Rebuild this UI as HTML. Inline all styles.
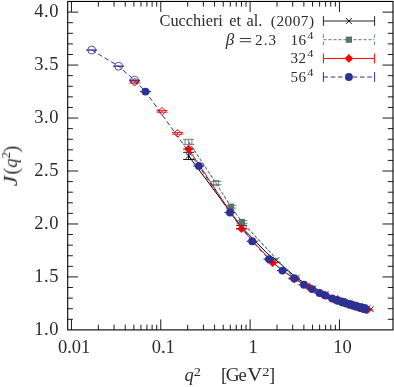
<!DOCTYPE html>
<html><head><meta charset="utf-8"><title>J(q^2)</title>
<style>
html,body{margin:0;padding:0;background:#fff;}
body{width:394px;height:387px;overflow:hidden;font-family:"Liberation Serif",serif;}
svg{display:block;}
.t{filter:grayscale(1);}
</style></head><body>
<svg width="394" height="387" viewBox="0 0 394 387">
<rect width="394" height="387" fill="#fff"/>
<polyline points="188.6,155.9 241.6,227.1 268,254.2 276.3,260.2 296.6,278 313.2,288.38 325.4,294.17 335,298.18 343,301 349.6,303.06 355.2,304.76 359.9,306.14 364,307.29 367.6,308.15 370.7,309.2" fill="none" stroke="#000" stroke-width="1.0"/>
<path d="M188.6 152.3v7.2M183.1 152.3h11M183.1 159.5h11" stroke="#000" stroke-width="0.9" fill="none"/>
<path d="M185.7 153l5.8 5.8M185.7 158.8l5.8 -5.8" stroke="#000" stroke-width="0.9" fill="none"/>
<path d="M241.6 225.4v3.4M236.1 225.4h11M236.1 228.8h11" stroke="#000" stroke-width="0.9" fill="none"/>
<path d="M238.7 224.2l5.8 5.8M238.7 230l5.8 -5.8" stroke="#000" stroke-width="0.9" fill="none"/>

<path d="M273.4 257.3l5.8 5.8M273.4 263.1l5.8 -5.8" stroke="#000" stroke-width="0.9" fill="none"/>

<path d="M293.7 275.1l5.8 5.8M293.7 280.9l5.8 -5.8" stroke="#000" stroke-width="0.9" fill="none"/>

<path d="M310.3 285.48l5.8 5.8M310.3 291.28l5.8 -5.8" stroke="#000" stroke-width="0.9" fill="none"/>

<path d="M322.5 291.27l5.8 5.8M322.5 297.07l5.8 -5.8" stroke="#000" stroke-width="0.9" fill="none"/>

<path d="M332.1 295.28l5.8 5.8M332.1 301.08l5.8 -5.8" stroke="#000" stroke-width="0.9" fill="none"/>

<path d="M340.1 298.1l5.8 5.8M340.1 303.9l5.8 -5.8" stroke="#000" stroke-width="0.9" fill="none"/>

<path d="M346.7 300.16l5.8 5.8M346.7 305.96l5.8 -5.8" stroke="#000" stroke-width="0.9" fill="none"/>

<path d="M352.3 301.86l5.8 5.8M352.3 307.66l5.8 -5.8" stroke="#000" stroke-width="0.9" fill="none"/>

<path d="M357 303.24l5.8 5.8M357 309.04l5.8 -5.8" stroke="#000" stroke-width="0.9" fill="none"/>

<path d="M361.1 304.39l5.8 5.8M361.1 310.19l5.8 -5.8" stroke="#000" stroke-width="0.9" fill="none"/>

<path d="M364.7 305.25l5.8 5.8M364.7 311.05l5.8 -5.8" stroke="#000" stroke-width="0.9" fill="none"/>

<path d="M367.8 306.3l5.8 5.8M367.8 312.1l5.8 -5.8" stroke="#000" stroke-width="0.9" fill="none"/>
<polyline points="188.6,141.8 216,183.1 231,206.7 242,222 294.13,277.83 323.11,293.91 341.86,301.31 354.45,305.24 362.65,307.61" fill="none" stroke="#56736f" stroke-width="1.05" stroke-dasharray="3.3 1.7"/>
<path d="M183.1 139.3h10.9M183.1 144.4h10.9M185.1 139.3v5.1M188.6 139.3v5.1M191.9 139.3v5.1" stroke="#56736f" stroke-width="0.9" fill="none"/>
<path d="M216 181.55v3.1M210.5 181.55h11M210.5 184.65h11" stroke="#56736f" stroke-width="0.8" fill="none"/>
<rect x="213.3" y="180.4" width="5.4" height="5.4" fill="none" stroke="#56736f" stroke-width="0.8"/>
<path d="M231 205.3v2.8M225.5 205.3h11M225.5 208.1h11" stroke="#56736f" stroke-width="0.8" fill="none"/>
<rect x="227.9" y="203.6" width="6.2" height="6.2" fill="#56736f"/>
<path d="M242 220.6v2.8M236.5 220.6h11M236.5 223.4h11" stroke="#56736f" stroke-width="0.8" fill="none"/>
<rect x="238.9" y="218.9" width="6.2" height="6.2" fill="#56736f"/>
<path d="M288.63 277.83h11" stroke="#56736f" stroke-width="1.2800000000000002" fill="none"/>
<rect x="291.03" y="274.73" width="6.2" height="6.2" fill="#56736f"/>
<path d="M317.61 293.91h11" stroke="#56736f" stroke-width="1.2800000000000002" fill="none"/>
<rect x="320.01" y="290.81" width="6.2" height="6.2" fill="#56736f"/>
<path d="M336.36 301.31h11" stroke="#56736f" stroke-width="1.2800000000000002" fill="none"/>
<rect x="338.76" y="298.21" width="6.2" height="6.2" fill="#56736f"/>
<path d="M348.95 305.24h11" stroke="#56736f" stroke-width="1.2800000000000002" fill="none"/>
<rect x="351.35" y="302.14" width="6.2" height="6.2" fill="#56736f"/>
<path d="M357.15 307.61h11" stroke="#56736f" stroke-width="1.2800000000000002" fill="none"/>
<rect x="359.55" y="304.51" width="6.2" height="6.2" fill="#56736f"/>
<polyline points="188.6,149.1 241.5,228.7 272.6,262.7 294.13,278.83 309,287.1 323.11,294.91 333.42,299.27 341.86,302.31 348.79,304.51 354.45,306.24 359.03,307.59 362.65,308.61 365.38,309.36 367.29,309.78 365.6,308.9 366.3,309" fill="none" stroke="#ff0000" stroke-width="1.0"/>
<path d="M134.7 81.2v1.8M129.2 81.2h11M129.2 83h11" stroke="#ff0000" stroke-width="0.9" fill="none"/>
<path d="M134.7 78.15L138.65 82.1L134.7 86.05L130.75 82.1Z" fill="none" stroke="#ff0000" stroke-width="0.95"/>
<path d="M162 110.4v1.8M156.5 110.4h11M156.5 112.2h11" stroke="#ff0000" stroke-width="0.9" fill="none"/>
<path d="M162 107.35L165.95 111.3L162 115.25L158.05 111.3Z" fill="none" stroke="#ff0000" stroke-width="0.95"/>
<path d="M177.6 132.4v1.8M172.1 132.4h11M172.1 134.2h11" stroke="#ff0000" stroke-width="0.9" fill="none"/>
<path d="M177.6 129.35L181.55 133.3L177.6 137.25L173.65 133.3Z" fill="none" stroke="#ff0000" stroke-width="0.95"/>
<path d="M183.1 149.1h11" stroke="#ff0000" stroke-width="1.2800000000000002" fill="none"/>
<path d="M188.6 144.75L192.95 149.1L188.6 153.45L184.25 149.1Z" fill="#ff0000"/>
<path d="M236 228.7h11" stroke="#ff0000" stroke-width="1.2800000000000002" fill="none"/>
<path d="M241.5 224.35L245.85 228.7L241.5 233.05L237.15 228.7Z" fill="#ff0000"/>
<path d="M267.1 262.7h11" stroke="#ff0000" stroke-width="1.2800000000000002" fill="none"/>
<path d="M272.6 258.35L276.95 262.7L272.6 267.05L268.25 262.7Z" fill="#ff0000"/>
<path d="M288.63 278.83h11" stroke="#ff0000" stroke-width="1.2800000000000002" fill="none"/>
<path d="M294.13 274.48L298.48 278.83L294.13 283.18L289.78 278.83Z" fill="#ff0000"/>
<path d="M303.5 287.1h11" stroke="#ff0000" stroke-width="1.2800000000000002" fill="none"/>
<path d="M309 282.75L313.35 287.1L309 291.45L304.65 287.1Z" fill="#ff0000"/>
<path d="M317.61 294.91h11" stroke="#ff0000" stroke-width="1.2800000000000002" fill="none"/>
<path d="M323.11 290.56L327.46 294.91L323.11 299.26L318.76 294.91Z" fill="#ff0000"/>
<path d="M327.92 299.27h11" stroke="#ff0000" stroke-width="1.2800000000000002" fill="none"/>
<path d="M333.42 294.92L337.77 299.27L333.42 303.62L329.07 299.27Z" fill="#ff0000"/>
<path d="M336.36 302.31h11" stroke="#ff0000" stroke-width="1.2800000000000002" fill="none"/>
<path d="M341.86 297.96L346.21 302.31L341.86 306.66L337.51 302.31Z" fill="#ff0000"/>
<path d="M343.29 304.51h11" stroke="#ff0000" stroke-width="1.2800000000000002" fill="none"/>
<path d="M348.79 300.16L353.14 304.51L348.79 308.86L344.44 304.51Z" fill="#ff0000"/>
<path d="M348.95 306.24h11" stroke="#ff0000" stroke-width="1.2800000000000002" fill="none"/>
<path d="M354.45 301.89L358.8 306.24L354.45 310.59L350.1 306.24Z" fill="#ff0000"/>
<path d="M353.53 307.59h11" stroke="#ff0000" stroke-width="1.2800000000000002" fill="none"/>
<path d="M359.03 303.24L363.38 307.59L359.03 311.94L354.68 307.59Z" fill="#ff0000"/>
<path d="M357.15 308.61h11" stroke="#ff0000" stroke-width="1.2800000000000002" fill="none"/>
<path d="M362.65 304.26L367 308.61L362.65 312.96L358.3 308.61Z" fill="#ff0000"/>
<path d="M359.88 309.36h11" stroke="#ff0000" stroke-width="1.2800000000000002" fill="none"/>
<path d="M365.38 305.01L369.73 309.36L365.38 313.71L361.03 309.36Z" fill="#ff0000"/>
<path d="M361.79 309.78h11" stroke="#ff0000" stroke-width="1.2800000000000002" fill="none"/>
<path d="M367.29 305.43L371.64 309.78L367.29 314.13L362.94 309.78Z" fill="#ff0000"/>
<path d="M360.1 308.9h11" stroke="#ff0000" stroke-width="1.2800000000000002" fill="none"/>
<path d="M365.6 304.55L369.95 308.9L365.6 313.25L361.25 308.9Z" fill="#ff0000"/>
<path d="M360.8 309h11" stroke="#ff0000" stroke-width="1.2800000000000002" fill="none"/>
<path d="M366.3 304.65L370.65 309L366.3 313.35L361.95 309Z" fill="#ff0000"/>
<polyline points="91.7,50.05 118.6,66.2 134.5,80.2 145.5,91.6 198.85,166 230,212.5 252.15,241.25 269,259.1 282.45,270.6 294.3,278.55 304,284.8 312.1,289.1 319.5,293 325.7,295.6 332.2,298.4 337.4,300.4 341.86,301.91 345.98,303.23 349.67,304.38 352.95,305.39 355.87,306.26 358.44,307.02 360.69,307.66 362.65,308.21 364.31,308.68 365.1,308.9" fill="none" stroke="#2e3192" stroke-width="1.0" stroke-dasharray="4.7 2.8"/>
<path d="M86.2 50.05h11" stroke="#2e3192" stroke-width="1.2800000000000002" fill="none"/>
<circle cx="91.7" cy="50.05" r="3.95" fill="none" stroke="#2e3192" stroke-width="0.85"/>
<path d="M113.1 66.2h11" stroke="#2e3192" stroke-width="1.2800000000000002" fill="none"/>
<circle cx="118.6" cy="66.2" r="3.95" fill="none" stroke="#2e3192" stroke-width="0.85"/>
<path d="M129 80.2h11" stroke="#2e3192" stroke-width="1.2800000000000002" fill="none"/>
<circle cx="134.5" cy="80.2" r="3.95" fill="none" stroke="#2e3192" stroke-width="0.85"/>
<path d="M140 91.6h11" stroke="#2e3192" stroke-width="1.2800000000000002" fill="none"/>
<circle cx="145.5" cy="91.6" r="3.95" fill="#2e3192"/>
<path d="M193.35 166h11" stroke="#2e3192" stroke-width="1.2800000000000002" fill="none"/>
<circle cx="198.85" cy="166" r="3.95" fill="#2e3192"/>
<path d="M224.5 212.5h11" stroke="#2e3192" stroke-width="1.2800000000000002" fill="none"/>
<circle cx="230" cy="212.5" r="3.95" fill="#2e3192"/>
<path d="M246.65 241.25h11" stroke="#2e3192" stroke-width="1.2800000000000002" fill="none"/>
<circle cx="252.15" cy="241.25" r="3.95" fill="#2e3192"/>
<path d="M263.5 259.1h11" stroke="#2e3192" stroke-width="1.2800000000000002" fill="none"/>
<circle cx="269" cy="259.1" r="3.95" fill="#2e3192"/>
<path d="M276.95 270.6h11" stroke="#2e3192" stroke-width="1.2800000000000002" fill="none"/>
<circle cx="282.45" cy="270.6" r="3.95" fill="#2e3192"/>
<path d="M288.8 278.55h11" stroke="#2e3192" stroke-width="1.2800000000000002" fill="none"/>
<circle cx="294.3" cy="278.55" r="3.95" fill="#2e3192"/>
<path d="M298.5 284.8h11" stroke="#2e3192" stroke-width="1.2800000000000002" fill="none"/>
<circle cx="304" cy="284.8" r="3.95" fill="#2e3192"/>
<path d="M306.6 289.1h11" stroke="#2e3192" stroke-width="1.2800000000000002" fill="none"/>
<circle cx="312.1" cy="289.1" r="3.95" fill="#2e3192"/>
<path d="M314 293h11" stroke="#2e3192" stroke-width="1.2800000000000002" fill="none"/>
<circle cx="319.5" cy="293" r="3.95" fill="#2e3192"/>
<path d="M320.2 295.6h11" stroke="#2e3192" stroke-width="1.2800000000000002" fill="none"/>
<circle cx="325.7" cy="295.6" r="3.95" fill="#2e3192"/>
<path d="M326.7 298.4h11" stroke="#2e3192" stroke-width="1.2800000000000002" fill="none"/>
<circle cx="332.2" cy="298.4" r="3.95" fill="#2e3192"/>
<path d="M331.9 300.4h11" stroke="#2e3192" stroke-width="1.2800000000000002" fill="none"/>
<circle cx="337.4" cy="300.4" r="4.3" fill="#2e3192"/>
<path d="M336.36 301.91h11" stroke="#2e3192" stroke-width="1.2800000000000002" fill="none"/>
<circle cx="341.86" cy="301.91" r="4.3" fill="#2e3192"/>
<path d="M340.48 303.23h11" stroke="#2e3192" stroke-width="1.2800000000000002" fill="none"/>
<circle cx="345.98" cy="303.23" r="4.3" fill="#2e3192"/>
<path d="M344.17 304.38h11" stroke="#2e3192" stroke-width="1.2800000000000002" fill="none"/>
<circle cx="349.67" cy="304.38" r="4.3" fill="#2e3192"/>
<path d="M347.45 305.39h11" stroke="#2e3192" stroke-width="1.2800000000000002" fill="none"/>
<circle cx="352.95" cy="305.39" r="4.3" fill="#2e3192"/>
<path d="M350.37 306.26h11" stroke="#2e3192" stroke-width="1.2800000000000002" fill="none"/>
<circle cx="355.87" cy="306.26" r="4.3" fill="#2e3192"/>
<path d="M352.94 307.02h11" stroke="#2e3192" stroke-width="1.2800000000000002" fill="none"/>
<circle cx="358.44" cy="307.02" r="4.3" fill="#2e3192"/>
<path d="M355.19 307.66h11" stroke="#2e3192" stroke-width="1.2800000000000002" fill="none"/>
<circle cx="360.69" cy="307.66" r="4.3" fill="#2e3192"/>
<path d="M357.15 308.21h11" stroke="#2e3192" stroke-width="1.2800000000000002" fill="none"/>
<circle cx="362.65" cy="308.21" r="4.3" fill="#2e3192"/>
<path d="M358.81 308.68h11" stroke="#2e3192" stroke-width="1.2800000000000002" fill="none"/>
<circle cx="364.31" cy="308.68" r="4.3" fill="#2e3192"/>
<path d="M359.6 308.9h11" stroke="#2e3192" stroke-width="1.2800000000000002" fill="none"/>
<circle cx="365.1" cy="308.9" r="4.3" fill="#2e3192"/>
<g stroke="#000" fill="none" stroke-linecap="butt">
<path stroke-width="0.9" d="M67.7 319.31h5.2M393 319.31h-5.2M67.7 308.71h5.2M393 308.71h-5.2M67.7 298.12h5.2M393 298.12h-5.2M67.7 287.53h5.2M393 287.53h-5.2M67.7 276.93h10.5M393 276.93h-10.5M67.7 266.34h5.2M393 266.34h-5.2M67.7 255.75h5.2M393 255.75h-5.2M67.7 245.16h5.2M393 245.16h-5.2M67.7 234.56h5.2M393 234.56h-5.2M67.7 223.97h10.5M393 223.97h-10.5M67.7 213.38h5.2M393 213.38h-5.2M67.7 202.78h5.2M393 202.78h-5.2M67.7 192.19h5.2M393 192.19h-5.2M67.7 181.6h5.2M393 181.6h-5.2M67.7 171h10.5M393 171h-10.5M67.7 160.41h5.2M393 160.41h-5.2M67.7 149.82h5.2M393 149.82h-5.2M67.7 139.23h5.2M393 139.23h-5.2M67.7 128.63h5.2M393 128.63h-5.2M67.7 118.04h10.5M393 118.04h-10.5M67.7 107.45h5.2M393 107.45h-5.2M67.7 96.85h5.2M393 96.85h-5.2M67.7 86.26h5.2M393 86.26h-5.2M67.7 75.67h5.2M393 75.67h-5.2M67.7 65.07h10.5M393 65.07h-10.5M67.7 54.48h5.2M393 54.48h-5.2M67.7 43.89h5.2M393 43.89h-5.2M67.7 33.3h5.2M393 33.3h-5.2M67.7 22.7h5.2M393 22.7h-5.2M67.7 12.11h10.5M393 12.11h-10.5M71.45 329.9v-10.5M71.45 1.45v10.5M98.34 329.9v-5.2M98.34 1.45v5.2M114.07 329.9v-5.2M114.07 1.45v5.2M125.23 329.9v-5.2M125.23 1.45v5.2M133.89 329.9v-5.2M133.89 1.45v5.2M140.96 329.9v-5.2M140.96 1.45v5.2M146.94 329.9v-5.2M146.94 1.45v5.2M152.12 329.9v-5.2M152.12 1.45v5.2M156.69 329.9v-5.2M156.69 1.45v5.2M160.78 329.9v-10.5M160.78 1.45v10.5M187.67 329.9v-5.2M187.67 1.45v5.2M203.4 329.9v-5.2M203.4 1.45v5.2M214.56 329.9v-5.2M214.56 1.45v5.2M223.22 329.9v-5.2M223.22 1.45v5.2M230.29 329.9v-5.2M230.29 1.45v5.2M236.27 329.9v-5.2M236.27 1.45v5.2M241.45 329.9v-5.2M241.45 1.45v5.2M246.02 329.9v-5.2M246.02 1.45v5.2M250.11 329.9v-10.5M250.11 1.45v10.5M277 329.9v-5.2M277 1.45v5.2M292.73 329.9v-5.2M292.73 1.45v5.2M303.89 329.9v-5.2M303.89 1.45v5.2M312.55 329.9v-5.2M312.55 1.45v5.2M319.62 329.9v-5.2M319.62 1.45v5.2M325.6 329.9v-5.2M325.6 1.45v5.2M330.78 329.9v-5.2M330.78 1.45v5.2M335.35 329.9v-5.2M335.35 1.45v5.2M339.44 329.9v-10.5M339.44 1.45v10.5"/>
<rect x="67.7" y="1.45" width="325.3" height="328.45" stroke-width="1.1"/>
</g>
<path d="M323.4 21H374.6" stroke="#222" stroke-width="1.0" fill="none"/>
<path d="M323.4 16.1v9.8M374.6 16.1v9.8" stroke="#222" stroke-width="1.0" fill="none"/>
<path d="M346 18.1l5.8 5.8M346 23.9l5.8 -5.8" stroke="#000" stroke-width="0.9" fill="none"/>
<path d="M323.4 39.7H374.6" stroke="#56736f" stroke-width="0.9" fill="none" stroke-dasharray="3.3 1.7"/>
<path d="M323.4 34.4v3.3M323.4 41.7v3.3M374.6 34.4v3.3M374.6 41.7v3.3" stroke="#56736f" stroke-width="0.9" fill="none"/>
<rect x="345.8" y="36.6" width="6.2" height="6.2" fill="#56736f"/>
<path d="M323.4 58.45H374.6" stroke="#ff0000" stroke-width="1.0" fill="none"/>
<path d="M323.4 53.55v9.8M374.6 53.55v9.8" stroke="#ff0000" stroke-width="1.0" fill="none"/>
<path d="M348.9 54.1L353.25 58.45L348.9 62.8L344.55 58.45Z" fill="#ff0000"/>
<path d="M323.4 77H374.6" stroke="#2e3192" stroke-width="1.0" fill="none" stroke-dasharray="4.6 2.7"/>
<path d="M323.4 72.1v9.8M374.6 72.1v9.8" stroke="#2e3192" stroke-width="1.0" fill="none"/>
<circle cx="348.9" cy="77" r="3.95" fill="#2e3192"/>
<g class="t" font-family="'Liberation Serif', serif" fill="#2b2b2b">
<text x="59.2" y="334.8" font-size="18.5" text-anchor="end" letter-spacing="0.6">1.0</text>
<text x="59.2" y="281.83" font-size="18.5" text-anchor="end" letter-spacing="0.6">1.5</text>
<text x="59.2" y="228.87" font-size="18.5" text-anchor="end" letter-spacing="0.6">2.0</text>
<text x="59.2" y="175.9" font-size="18.5" text-anchor="end" letter-spacing="0.6">2.5</text>
<text x="59.2" y="122.94" font-size="18.5" text-anchor="end" letter-spacing="0.6">3.0</text>
<text x="59.2" y="69.97" font-size="18.5" text-anchor="end" letter-spacing="0.6">3.5</text>
<text x="59.2" y="17.01" font-size="18.5" text-anchor="end" letter-spacing="0.6">4.0</text>
<text x="74.1" y="353.1" font-size="18.5" text-anchor="middle">0.01</text>
<text x="163.2" y="353.1" font-size="18.5" text-anchor="middle">0.1</text>
<text x="253" y="353.1" font-size="18.5" text-anchor="middle">1</text>
<text x="342.6" y="353.1" font-size="18.5" text-anchor="middle">10</text>
<text x="184.6" y="381.3" font-size="18.5" font-style="italic">q</text>
<text x="193.8" y="376.2" font-size="12.4" textLength="7.2" lengthAdjust="spacingAndGlyphs">2</text>
<text x="220.9" y="381.3" font-size="18.5">[</text>
<text x="225.7" y="381.3" font-size="18.5" textLength="13.9" lengthAdjust="spacingAndGlyphs">G</text>
<text x="238.5" y="381.3" font-size="18.5">e</text>
<text x="247.3" y="381.3" font-size="18.5" textLength="15" lengthAdjust="spacingAndGlyphs">V</text>
<text x="262.2" y="376.2" font-size="12.4" textLength="7.2" lengthAdjust="spacingAndGlyphs">2</text>
<text x="268.9" y="381.3" font-size="18.5">]</text>
<g transform="translate(16.9 186.7) rotate(-90)">
<text x="0.5" y="0" font-size="18.5" font-style="italic" textLength="10.5" lengthAdjust="spacingAndGlyphs">J</text>
<text x="12.1" y="1.3" font-size="21.5" fill="#444">(</text>
<text x="19.0" y="0" font-size="18.5" font-style="italic">q</text>
<text x="28.2" y="-7.2" font-size="12.4" textLength="6.6" lengthAdjust="spacingAndGlyphs">2</text>
<text x="33.9" y="1.3" font-size="21.5" fill="#444">)</text>
</g>
<text x="159.6" y="26.2" font-size="16.3">Cucchieri</text>
<text x="229.2" y="26.2" font-size="16.3">et</text>
<text x="246.6" y="26.2" font-size="16.3">al.</text>
<text x="270.8" y="26.2" font-size="15.3" letter-spacing="0.5">(2007)</text>
<text x="225.8" y="44.6" font-size="17" font-style="italic">β</text>
<path d="M239.8 38.5H251M239.8 41.7H251" stroke="#222" stroke-width="0.9" fill="none"/>
<text x="255.1" y="44.6" font-size="15.1" letter-spacing="1.0">2.3</text>
<text x="306.4" y="44.6" font-size="15.1" text-anchor="end" letter-spacing="0.4">16</text>
<text x="307.2" y="38.6" font-size="10.6" textLength="6.2" lengthAdjust="spacingAndGlyphs">4</text>
<text x="306.4" y="63.1" font-size="15.1" text-anchor="end" letter-spacing="0.4">32</text>
<text x="307.2" y="57.1" font-size="10.6" textLength="6.2" lengthAdjust="spacingAndGlyphs">4</text>
<text x="306.4" y="81.8" font-size="15.1" text-anchor="end" letter-spacing="0.4">56</text>
<text x="307.2" y="75.8" font-size="10.6" textLength="6.2" lengthAdjust="spacingAndGlyphs">4</text>
</g>
</svg>
</body></html>
